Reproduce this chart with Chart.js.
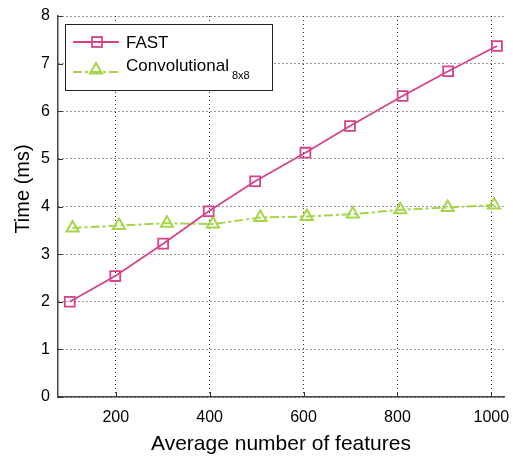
<!DOCTYPE html>
<html>
<head>
<meta charset="utf-8">
<script src="https://cdn.jsdelivr.net/npm/chart.js@4"></script>
<style>
    html, body { margin: 0; padding: 0; background: #ffffff; }
    #wrap { width: 513px; height: 456px; }
</style>
</head>
<body>
<div id="wrap"><canvas id="timeChart" width="513" height="456"></canvas></div>
<script>
// values
const fastX = [102, 199, 301, 398, 497, 604, 699, 811, 908, 1012];
const fastY = [2.00, 2.54, 3.22, 3.90, 4.53, 5.13, 5.69, 6.32, 6.84, 7.37];
const convX = [108, 207, 309, 407, 508, 607, 705, 806, 907, 1006];
const convY = [3.55, 3.60, 3.65, 3.63, 3.77, 3.79, 3.84, 3.93, 3.98, 4.03];
const xTicks = [200, 400, 600, 800, 1000];
const yTicks = [0, 1, 2, 3, 4, 5, 6, 7, 8];

const PINK = '#d8428a';
const GREEN = '#a5d548';
const FONT = '"Liberation Sans", Arial, sans-serif';

const toPoints = (xs, ys) => xs.map((x, i) => ({ x: x, y: ys[i] }));

// axis titles, inward ticks and the boxed legend
const decorations = {
    id: 'decorations',
    afterDraw(chart) {
        const ctx = chart.ctx;
        const area = chart.chartArea;
        const xs = chart.scales.x;
        const ys = chart.scales.y;

        ctx.save();
        // inward tick marks
        ctx.strokeStyle = '#333';
        ctx.lineWidth = 1;
        xTicks.forEach(v => {
            const px = Math.round(xs.getPixelForValue(v)) + 0.5;
            ctx.beginPath();
            ctx.moveTo(px, area.bottom);
            ctx.lineTo(px, area.bottom - 5);
            ctx.stroke();
        });
        yTicks.forEach(v => {
            const py = Math.round(ys.getPixelForValue(v)) + 0.5;
            ctx.beginPath();
            ctx.moveTo(area.left, py);
            ctx.lineTo(area.left + 5, py);
            ctx.stroke();
        });

        // axis titles
        ctx.fillStyle = '#000';
        ctx.font = '21px ' + FONT;
        ctx.textAlign = 'center';
        ctx.textBaseline = 'alphabetic';
        ctx.fillText('Average number of features', (area.left + area.right) / 2, 450);
        ctx.save();
        ctx.translate(29, 189);
        ctx.rotate(-Math.PI / 2);
        ctx.font = '20px ' + FONT;
        ctx.fillText('Time (ms)', 0, 0);
        ctx.restore();

        // legend box
        const bx = 65.5, by = 24.5, bw = 207, bh = 66;
        ctx.fillStyle = '#fff';
        ctx.fillRect(bx, by, bw, bh);
        ctx.strokeStyle = '#222';
        ctx.lineWidth = 1;
        ctx.strokeRect(bx, by, bw, bh);

        // FAST entry
        ctx.strokeStyle = PINK;
        ctx.lineWidth = 1.8;
        ctx.beginPath();
        ctx.moveTo(73, 42);
        ctx.lineTo(119, 42);
        ctx.stroke();
        ctx.strokeRect(92, 37, 10, 10);

        // Convolutional entry
        ctx.strokeStyle = GREEN;
        ctx.lineWidth = 2;
        ctx.setLineDash([9, 3, 3, 3]);
        ctx.beginPath();
        ctx.moveTo(73, 72);
        ctx.lineTo(119, 72);
        ctx.stroke();
        ctx.setLineDash([]);
        ctx.beginPath();
        ctx.moveTo(96, 63);
        ctx.lineTo(102, 73.5);
        ctx.lineTo(90, 73.5);
        ctx.closePath();
        ctx.stroke();

        ctx.fillStyle = '#000';
        ctx.textAlign = 'left';
        ctx.font = '17px ' + FONT;
        ctx.fillText('FAST', 126, 48);
        ctx.fillText('Convolutional', 126, 71);
        ctx.font = '11px ' + FONT;
        ctx.fillText('8x8', 232, 79);
        ctx.restore();
    }
};

new Chart(document.getElementById('timeChart').getContext('2d'), {
    type: 'line',
    data: {
        datasets: [{
            label: 'FAST',
            data: toPoints(fastX, fastY),
            borderColor: PINK,
            backgroundColor: 'rgba(0,0,0,0)',
            borderWidth: 1.8,
            pointStyle: 'rect',
            pointRadius: 7,
            pointBorderWidth: 1.8,
            pointBorderColor: PINK,
            pointBackgroundColor: 'rgba(0,0,0,0)',
            tension: 0
        }, {
            label: 'Convolutional 8x8',
            data: toPoints(convX, convY),
            borderColor: GREEN,
            backgroundColor: 'rgba(0,0,0,0)',
            borderWidth: 2,
            borderDash: [9, 3, 3, 3],
            pointStyle: 'triangle',
            pointRadius: 7,
            pointBorderWidth: 2,
            pointBorderColor: GREEN,
            pointBackgroundColor: 'rgba(0,0,0,0)',
            tension: 0
        }]
    },
    options: {
        responsive: false,
        animation: false,
        layout: { padding: { top: 16, right: 8, left: 0, bottom: 0 } },
        plugins: {
            legend: { display: false },
            tooltip: { enabled: false }
        },
        scales: {
            x: {
                type: 'linear',
                min: 77,
                max: 1027,
                afterBuildTicks: (scale) => {
                    scale.ticks = xTicks.map(v => ({ value: v }));
                },
                afterFit: (scale) => {
                    scale.height = 59;
                    scale.paddingLeft = 0;
                    scale.paddingRight = 0;
                },
                ticks: {
                    color: '#000',
                    font: { family: FONT, size: 16 },
                    padding: 11,
                    autoSkip: false,
                    maxRotation: 0,
                    callback: (value) => String(value)
                },
                grid: { color: '#333', lineWidth: 1, drawTicks: false },
                border: { display: true, color: '#444', width: 1.5, dash: [1, 3] }
            },
            y: {
                type: 'linear',
                min: 0,
                max: 8,
                afterBuildTicks: (scale) => {
                    scale.ticks = yTicks.map(v => ({ value: v }));
                },
                afterFit: (scale) => {
                    scale.width = 58;
                    scale.paddingTop = 0;
                    scale.paddingBottom = 0;
                },
                ticks: {
                    color: '#000',
                    font: { family: FONT, size: 16 },
                    padding: 8,
                    callback: (value) => String(value)
                },
                grid: { color: '#333', lineWidth: 1, drawTicks: false },
                border: { display: true, color: '#444', width: 1.5, dash: [1, 3] }
            }
        }
    },
    plugins: [decorations]
});
</script>
</body>
</html>
